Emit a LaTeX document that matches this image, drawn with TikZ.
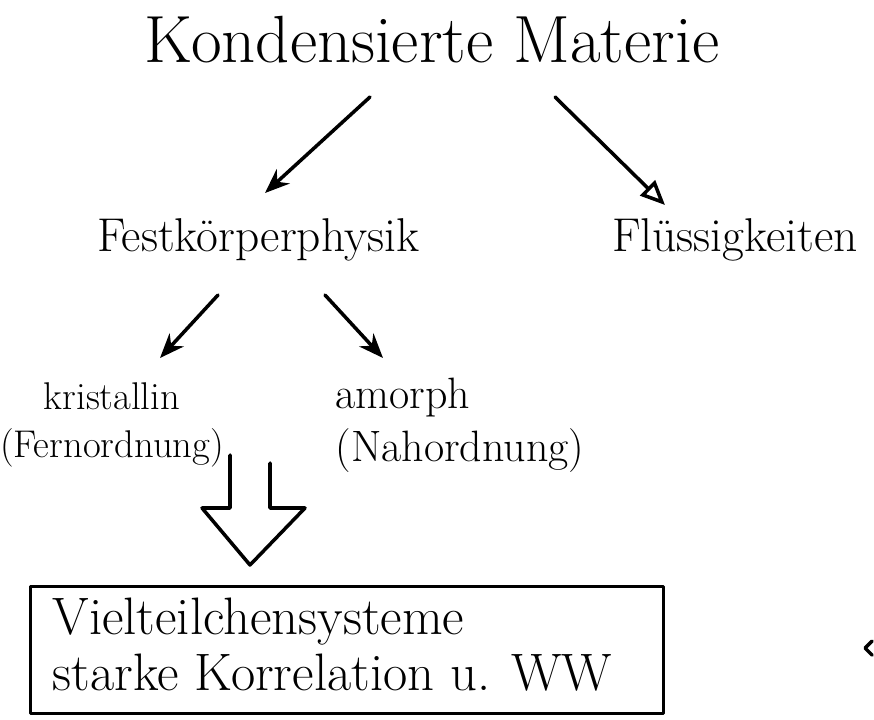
\documentclass[tikz,border=0pt]{standalone}
\usepackage{tikz}
\usetikzlibrary{arrows.meta}

\begin{document}
\begin{tikzpicture}
  [x=0.02cm,y=-0.02cm,line width=2pt,line cap=round,line join=round]
      \tikzstyle{titel_style} = [font=\fontsize{38}{44}\selectfont]
      \tikzstyle{text_style} = [font=\fontsize{27}{32}\selectfont]
      \tikzstyle{klein_style} = [font=\fontsize{22}{27}\selectfont, align=center]
      \tikzstyle{voll_pfeil} = [draw=black, -{Stealth[length=14pt,width=11pt]}]
      \tikzstyle{offen_pfeil} = [draw=black, -{Triangle[open,length=14pt,width=12pt]}]
  \useasboundingbox (0,0) rectangle (874,719);
  \node[titel_style] (kondensiert) at (432,40) {Kondensierte Materie};
  \node[text_style] (festkoerper) at (258,240) {Festkörperphysik};
  \node[text_style] (fluessig) at (735,240) {Flüssigkeiten};
  \node[klein_style] (kristallin) at (112,425) {kristallin\\(Fernordnung)};
  \node[font=\fontsize{25}{30}\selectfont, align=left, anchor=west] (amorph) at (328,425) {amorph\\(Nahordnung)};
  \node[draw, minimum width=633*0.02cm, minimum height=127*0.02cm] (vielteilchen) at (347,650) {};
  \node[font=\fontsize{30}{32}\selectfont, align=left, anchor=west] (vieltext) at (45,645)
       {Vielteilchensysteme\\starke Korrelation u. WW};
  \coordinate (k1) at (370,97);
  \coordinate (k2) at (555,97);
  \coordinate (f1) at (265,193);
  \coordinate (f2) at (665,205);
  \coordinate (p1) at (218,295);
  \coordinate (p2) at (325,295);
  \coordinate (q1) at (160,358);
  \coordinate (q2) at (383,358);
  \draw[voll_pfeil] (k1) -- (f1);
  \draw[offen_pfeil] (k2) -- (f2);
  \draw[voll_pfeil] (p1) -- (q1);
  \draw[voll_pfeil] (p2) -- (q2);
  % Blockpfeil
  \draw (230,455) -- (230,508) -- (202,508) -- (250,565) -- (305,508) -- (270,508) -- (270,463);
  \draw (872,641) -- (865,648) -- (872,655);
\end{tikzpicture}
\end{document}
